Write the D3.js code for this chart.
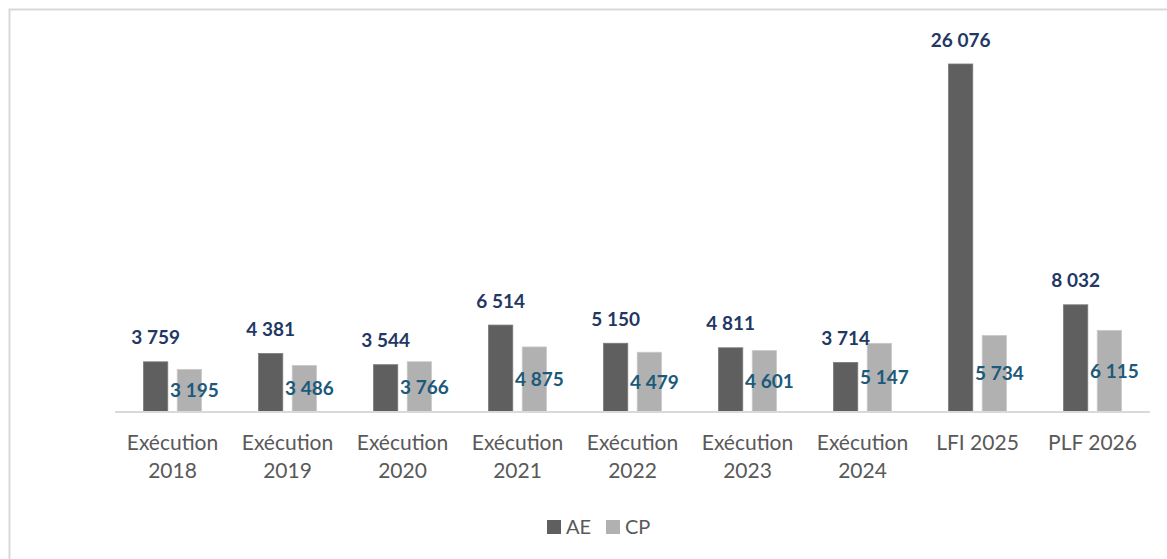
<!DOCTYPE html>
<html>
<head>
<meta charset="utf-8">
<script src="https://cdn.jsdelivr.net/npm/d3@7"></script>
<style>
  body { margin: 0; background: #fff; }
  svg { display: block; font-family: Lato, "Open Sans", sans-serif; }
</style>
</head>
<body>
<div id="chart"></div>
<script>
// category labels (two lines each) and series values
var categories = [
    ["Exécution", "2018"], ["Exécution", "2019"], ["Exécution", "2020"],
    ["Exécution", "2021"], ["Exécution", "2022"], ["Exécution", "2023"],
    ["Exécution", "2024"], ["LFI 2025"], ["PLF 2026"]
];
var aeValues = [3759, 4381, 3544, 6514, 5150, 4811, 3714, 26076, 8032];
var cpValues = [3195, 3486, 3766, 4875, 4479, 4601, 5147, 5734, 6115];
var seriesNames = ["AE", "CP"];

var width = 1167, height = 559
    ,margin = { top: 64, right: 17, bottom: 147, left: 115 }
    ,innerW = width - margin.left - margin.right
    ,innerH = height - margin.top - margin.bottom
    ,aeColor = '#5f5f5f'
    ,cpColor = '#b1b1b1'
    ,fmt = function(v) { return d3.format(",")(v).replace(/,/g, " "); };

var svg = d3.select("#chart")
    .append("svg")
    .attr("width", width)
    .attr("height", height);

// light frame of the original picture
svg.append("path")
    .attr("d", "M9.5," + height + "V9.5H" + width)
    .attr("fill", "none")
    .attr("stroke", "#d9d9d9")
    .attr("stroke-width", 2);

var g = svg.append("g")
    .attr("transform", "translate(" + margin.left + "," + margin.top + ")");

var x0 = d3.scaleBand()
    .domain(d3.range(categories.length))
    .range([0, innerW]);

var x1 = d3.scaleBand()
    .domain(seriesNames)
    .range([28.5, 86.5])
    .paddingInner(0.28);

var y = d3.scaleLinear()
    .domain([0, 26076])
    .range([innerH, 0]);

var groups = g.selectAll(".grp")
    .data(categories)
    .enter()
    .append("g")
    .attr("class", "grp")
    .attr("transform", function(d, i) { return "translate(" + x0(i) + ",0)"; });

// AE bars
groups.append("rect")
    .attr("x", x1("AE"))
    .attr("y", function(d, i) { return y(aeValues[i]); })
    .attr("width", x1.bandwidth())
    .attr("height", function(d, i) { return innerH - y(aeValues[i]); })
    .attr("fill", aeColor)
    .attr("stroke", "#7a7a7a")
    .attr("stroke-width", 0.8);

// CP bars
groups.append("rect")
    .attr("x", x1("CP"))
    .attr("y", function(d, i) { return y(cpValues[i]); })
    .attr("width", x1.bandwidth())
    .attr("height", function(d, i) { return innerH - y(cpValues[i]); })
    .attr("fill", cpColor)
    .attr("stroke", "#c9c9c9")
    .attr("stroke-width", 0.8);

// value labels
groups.append("text")
    .attr("x", x1("AE") + x1.bandwidth() / 2)
    .attr("y", function(d, i) { return y(aeValues[i]) - 24; })
    .attr("dy", "0.35em")
    .attr("text-anchor", "middle")
    .attr("font-size", 19)
    .attr("font-weight", "bold")
    .attr("fill", "#1f3864")
    .text(function(d, i) { return fmt(aeValues[i]); });

groups.append("text")
    .attr("x", x1("CP") + x1.bandwidth() / 2 + 5)
    .attr("y", function(d, i) { return (y(cpValues[i]) + innerH) / 2; })
    .attr("dy", "0.35em")
    .attr("text-anchor", "middle")
    .attr("font-size", 19)
    .attr("font-weight", "bold")
    .attr("fill", "#1b5a7a")
    .text(function(d, i) { return fmt(cpValues[i]); });

// baseline
g.append("line")
    .attr("x1", 0)
    .attr("x2", innerW)
    .attr("y1", innerH)
    .attr("y2", innerH)
    .attr("stroke", "#d9d9d9")
    .attr("stroke-width", 2);

// category labels
groups.append("text")
    .attr("x", x0.bandwidth() / 2)
    .attr("y", innerH + 33)
    .attr("text-anchor", "middle")
    .attr("font-size", 21)
    .attr("fill", "#595959")
    .selectAll("tspan")
    .data(function(d) { return d; })
    .enter()
    .append("tspan")
    .attr("x", x0.bandwidth() / 2)
    .attr("dy", function(d, i) { return i ? 28 : 0; })
    .attr("dominant-baseline", "middle")
    .text(function(d) { return d; });

// legend
var legend = svg.append("g")
    .attr("transform", "translate(547,520)");

var item = legend.selectAll(".item")
    .data(seriesNames)
    .enter()
    .append("g")
    .attr("class", "item")
    .attr("transform", function(d, i) { return "translate(" + (i * 59) + ",0)"; });

item.append("rect")
    .attr("width", 14)
    .attr("height", 14)
    .attr("fill", function(d) { return d === "AE" ? aeColor : cpColor; });

item.append("text")
    .attr("x", 19)
    .attr("y", 7)
    .attr("dy", "0.35em")
    .attr("font-size", 20)
    .attr("fill", "#595959")
    .text(function(d) { return d; });
</script>
</body>
</html>
